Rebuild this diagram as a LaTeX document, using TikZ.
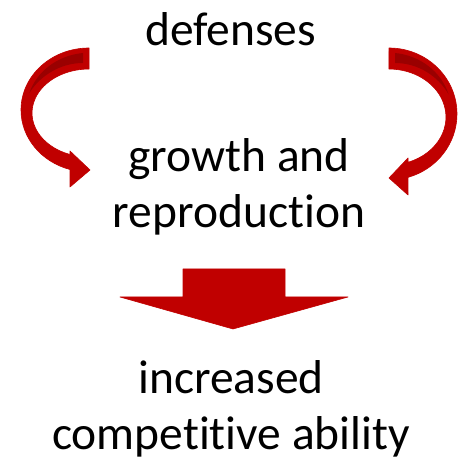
\documentclass[tikz,border=0pt]{standalone}
\usepackage{fontspec}
\setmainfont{Carlito}[Ligatures=NoCommon]
\usepackage{tikz}
\usetikzlibrary{positioning}
\definecolor{arrowred}{HTML}{C00000}
\definecolor{arrowdark}{HTML}{9A0000}
\tikzset{
    caption/.style={align=center, inner sep=0pt, anchor=base, font=\fontsize{47.5}{56}\selectfont},
    bigarrow/.style={fill=arrowred, draw=arrowred, line width=0.6pt, line join=round},
    backface/.style={fill=arrowdark}
}

\begin{document}
\begin{tikzpicture}[x=1pt, y=1pt]
    \useasboundingbox (0,0) rectangle (466,462);

    % Text blocks (base anchor sits on the last line)
    \node[caption] (def) at (230.5,416) {defenses};
    \node[caption] (grow) at (239,234) {growth and\\reproduction};
    \node[caption] (comp) at (231,12) {increased\\competitive ability};

    % Curved arrow, left side
    \path[bigarrow] (89,414) arc[start angle=90, end angle=253.8, x radius=68, y radius=62]
        -- (70,275) -- (90,292) -- (70,311) -- (70,307.5)
        arc[start angle=250.5, end angle=90, x radius=57, y radius=44] -- cycle;
    \fill[backface] (83,409) arc[start angle=96, end angle=163, x radius=63, y radius=57]
        .. controls (40,386) and (60,399) .. (83,399) -- cycle;

    % Curved arrow, right side
    \path[bigarrow] (389,414) arc[start angle=90, end angle=-73.8, x radius=68, y radius=66]
        -- (408,267) -- (389,284) -- (408,304) -- (408,299.7)
        arc[start angle=-70.5, end angle=90, x radius=57, y radius=48] -- cycle;
    \fill[backface] (395,409) arc[start angle=84, end angle=17, x radius=63, y radius=59]
        .. controls (438,386) and (418,399) .. (395,399) -- cycle;

    % Block arrow pointing down
    \path[bigarrow] (183,193) -- (285,193) -- (285,165) -- (348,165)
        -- (233,133) -- (120,165) -- (183,165) -- cycle;
\end{tikzpicture}
\end{document}
